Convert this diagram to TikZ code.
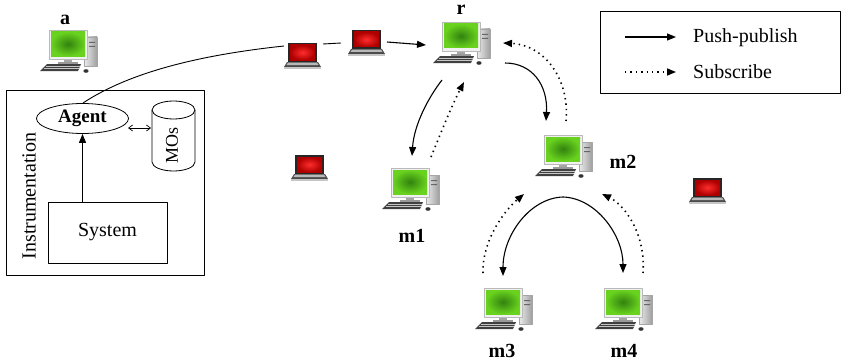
\documentclass[tikz,border=0pt]{standalone}
\usepackage{fontspec}
\setmainfont{Liberation Serif}
\usetikzlibrary{arrows.meta,shapes.geometric}
\definecolor{scrG}{RGB}{105,210,30}
\definecolor{scrD}{RGB}{50,130,15}
\definecolor{lapR}{RGB}{255,45,45}
\definecolor{lapD}{RGB}{175,0,0}
\begin{document}
\begin{tikzpicture}[x=1pt,y=-1pt,line join=round,
  lbl/.style={font=\fontsize{20}{24}\selectfont\bfseries,inner sep=0pt},
  txt/.style={font=\fontsize{20}{24}\selectfont,inner sep=0pt},
  tipA/.style={-{Triangle[length=9pt,width=7pt]}},
  push/.style={line width=1.1pt,tipA},
  sub/.style={line width=1.6pt,dash pattern=on 1.4pt off 4pt,tipA},
  boxed/.style={draw,line width=1pt,inner sep=0pt},
  desktop/.pic={
    \shade[left color=gray!15,right color=gray!75] (44,7) rectangle (57,36);
    \draw[gray!70,line width=0.4pt] (44,7) rectangle (57,36);
    \fill[black!60] (49,12) rectangle (55,13) (49,16) rectangle (55,17);
    \fill[gray!70] (24,28) rectangle (32,33);
    \fill[gray!80] (18,32) rectangle (38,34);
    \fill[gray!12] (9,0) rectangle (47,29);
    \draw[gray!55,line width=0.5pt] (9,0) rectangle (47,29);
    \shade[inner color=scrD,outer color=scrG] (11,2) rectangle (45,26);
    \fill[black!75] (7,34) -- (41,34) -- (38,41) -- (0,41) -- cycle;
    \draw[gray!45,line width=0.6pt] (6,36) -- (40,36) (4,38.5) -- (39,38.5);
    \fill[black!80] (46,41) ellipse (2.6 and 1.8);
  },
  laptop/.pic={
    \fill[black!85] (4,0) rectangle (33,19);
    \shade[inner color=lapR,outer color=lapD] (6,2) rectangle (31,17);
    \fill[black!70] (3,19) -- (34,19) -- (37,24) -- (0,24) -- cycle;
    \fill[gray!55] (4,19.6) -- (33,19.6) -- (34.5,22) -- (2.5,22) -- cycle;
    \fill[gray!45] (0,24) rectangle (37,26);
  }]
\useasboundingbox (0,0) rectangle (842,361);

% legend
\node[boxed,minimum width=240pt,minimum height=81pt] (legend) at (720,52.5) {};
\coordinate (lpA) at (625,37); \coordinate (lpB) at (676,37);
\coordinate (lsA) at (625,72); \coordinate (lsB) at (676,72);
\draw[push] (lpA) -- (lpB);
\draw[sub] (lsA) -- (lsB);
\node[txt,anchor=base west] (tpush) at (693,43) {Push-publish};
\node[txt,anchor=base west] (tsub) at (693,78) {Subscribe};

% instrumentation
\node[boxed,minimum width=198pt,minimum height=185pt] (instr) at (105,182.5) {};
\node[txt,rotate=90] (tinstr) at (29,196) {Instrumentation};
\node[draw,ellipse,line width=0.8pt,minimum width=92pt,minimum height=30pt,inner sep=0pt,
      font=\fontsize{19}{22}\selectfont\bfseries] (agent) at (82.5,118.5) {Agent};
\node[boxed,minimum width=119pt,minimum height=61pt,txt] (system) at (107.5,232.5) {System};
% MOs cylinder
\draw[line width=0.8pt] (152,110) arc[start angle=180,end angle=540,x radius=21.5,y radius=9];
\draw[line width=0.8pt] (152,110) -- (152,162) arc[start angle=180,end angle=360,x radius=21.5,y radius=-9] -- (195,110);
\node[txt,rotate=90,font=\fontsize{18}{22}\selectfont] (mos) at (172,145) {MOs};
\coordinate (agR) at (128,128); \coordinate (mosL) at (151,128);
\draw[line width=0.7pt,{Straight Barb[length=4pt,width=6pt]}-{Straight Barb[length=4pt,width=6pt]}] (agR) -- (mosL);
\draw[line width=1pt,-{Triangle[length=9pt,width=7pt]}] (system.north -| agent.south) coordinate (sysT) -- (agent.south);

% computers
\pic (pa) at (40,30) {desktop};
\pic (pr) at (433,22) {desktop};
\pic (pm1) at (382,168) {desktop};
\pic (pm2) at (535,135) {desktop};
\pic (pm3) at (475,288) {desktop};
\pic (pm4) at (595,288) {desktop};
\pic (l1) at (284,43) {laptop};
\pic (l2) at (348,30) {laptop};
\pic (l3) at (291,155) {laptop};
\pic (l4) at (689,178) {laptop};

\node[lbl,anchor=base] (la) at (65,25) {a};
\node[lbl,anchor=base] (lr) at (461,15) {r};
\node[lbl,anchor=base] (lm1) at (412,242) {m1};
\node[lbl,anchor=base] (lm2) at (623,168) {m2};
\node[lbl,anchor=base] (lm3) at (502,357) {m3};
\node[lbl,anchor=base] (lm4) at (624,357) {m4};

% route to r
\coordinate (agT) at (83,103);
\coordinate (l1L) at (284,46);
\coordinate (l1R) at (323,44);
\coordinate (l2L) at (341,43);
\coordinate (l2R) at (387,42);
\coordinate (rL) at (426,45);
\draw[line width=0.9pt] (agT) .. controls (130,72) and (200,55) .. (l1L);
\draw[line width=0.9pt] (l1R) -- (l2L);
\draw[push] (l2R) -- (rL);

% r <-> m1
\coordinate (a1s) at (442,80); \coordinate (a1e) at (412,156);
\draw[push] (a1s) .. controls (428,98) and (414,125) .. (a1e);
\coordinate (b1s) at (431,157); \coordinate (b1e) at (464,82);
\draw[sub] (b1s) .. controls (440,135) and (452,105) .. (b1e);
% r <-> m2
\coordinate (a2s) at (505,63); \coordinate (a2e) at (546,121);
\draw[push] (a2s) .. controls (532,63) and (548,85) .. (a2e);
\coordinate (b2s) at (566,121); \coordinate (b2e) at (503,43);
\draw[sub] (b2s) .. controls (570,80) and (545,45) .. (b2e);
% m2 -> m3, m4
\coordinate (apex) at (563,197);
\coordinate (a3e) at (503,276); \coordinate (a4e) at (623,273);
\draw[push] (apex) .. controls (530,198) and (503,235) .. (a3e);
\draw[push] (apex) .. controls (596,198) and (623,235) .. (a4e);
\coordinate (b3s) at (483,273); \coordinate (b3e) at (524,194);
\draw[sub] (b3s) .. controls (482,240) and (505,210) .. (b3e);
\coordinate (b4s) at (643,273); \coordinate (b4e) at (602,194);
\draw[sub] (b4s) .. controls (646,235) and (625,205) .. (b4e);
\end{tikzpicture}
\end{document}
